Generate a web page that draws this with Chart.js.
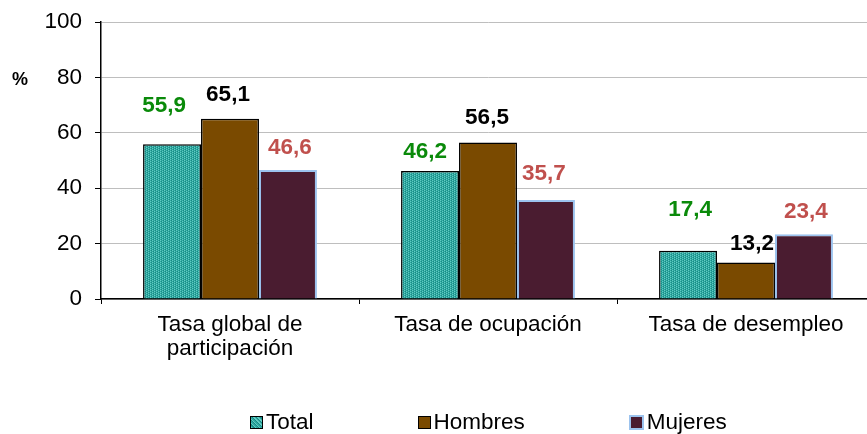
<!DOCTYPE html>
<html>
<head>
<meta charset="utf-8">
<script src="https://cdn.jsdelivr.net/npm/chart.js@4"></script>
<style>
  html, body { margin:0; padding:0; background:#fff; overflow:hidden }
  #wrap { position:relative; width:880px; height:434px }
  #legend { position:absolute; top:409px; left:250px; display:flex; gap:104px; font:22.5px 'Liberation Sans', Arial, sans-serif; color:#000 }
  #legend .item { display:flex; align-items:center }
  #legend .box { width:11px; height:11px; margin-right:3px; box-sizing:content-box }
</style>
</head>
<body>
<div id="wrap">
  <canvas id="chart" width="880" height="434"></canvas>
  <div id="legend"></div>
</div>
<script>
// Data
const categories = [['Tasa global de', 'participación'], 'Tasa de ocupación', 'Tasa de desempleo']
const seriesNames = ['Total', 'Hombres', 'Mujeres']
const total = [55.9, 46.2, 17.4]
const hombres = [65.1, 56.5, 13.2]
const mujeres = [46.6, 35.7, 23.4]

const FONT = "'Liberation Sans', Arial, sans-serif"

// teal dotted fill like the excel pattern
function tealPattern(){
  const c = document.createElement('canvas'); c.width = 4; c.height = 4
  const x = c.getContext('2d')
  x.fillStyle = '#2fa8a1'; x.fillRect(0,0,4,4)
  x.fillStyle = '#63cbc3'
  ;[[0,0],[2,1],[0,2],[2,3]].forEach(p => x.fillRect(p[0],p[1],1,1))
  x.fillStyle = '#178a84'
  ;[[1,1],[3,0],[1,3],[3,2]].forEach(p => x.fillRect(p[0],p[1],1,1))
  return x.createPattern(c, 'repeat')
}

const fills = [tealPattern(), '#7a4a00', '#4a1c30']
const borders = ['#000000', '#000000', '#9cc3ee']
const labelColors = ['#0a8a0a', '#000000', '#c0504d']
// label nudges [dx, gap above bar top] per series, per category
const labelShift = [
  [[-8,38],[-5,19],[2,41]],
  [[-2,24],[-1,25],[6,19]],
  [[2,22],[-2,26],[2,22]]
]

const valueLabels = {
  id: 'valueLabels',
  afterDatasetsDraw(chart){
    const ctx = chart.ctx
    ctx.save()
    ctx.font = 'bold 22.5px ' + FONT
    ctx.textAlign = 'center'; ctx.textBaseline = 'middle'
    chart.data.datasets.forEach((ds, di) => {
      chart.getDatasetMeta(di).data.forEach((bar, i) => {
        const s = labelShift[di][i]
        ctx.fillStyle = labelColors[di]
        ctx.fillText(ds.data[i].toFixed(1).replace('.', ','), bar.x + s[0], bar.y - s[1])
      })
    })
    // unit label
    ctx.font = 'bold 18px ' + FONT
    ctx.fillStyle = '#000'
    ctx.fillText('%', 20, 80)
    ctx.restore()
  }
}

const ctx = document.getElementById('chart').getContext('2d')
new Chart(ctx, {
  type: 'bar',
  data: {
    labels: categories,
    datasets: [total, hombres, mujeres].map((d, i) => ({
      label: seriesNames[i], data: d,
      backgroundColor: fills[i], borderColor: borders[i],
      borderWidth: i === 2 ? 2 : 1.5,
      categoryPercentage: 0.674, barPercentage: 1
    }))
  },
  options: {
    responsive: false, animation: false, devicePixelRatio: 1,
    layout: { padding: { top: 22, right: 5, left: 0, bottom: 0 } },
    plugins: { legend: { display: false }, tooltip: { enabled: false } },
    scales: {
      y: {
        min: 0, max: 100,
        ticks: { stepSize: 20, color: '#000', padding: 13, font: { family: FONT, size: 22.5 } },
        grid: { color: '#bebebe', lineWidth: 1, tickColor: '#000', tickLength: 6 },
        border: { color: '#000', width: 1.5 },
        afterFit: s => { s.width = 101; s.paddingTop = 0; s.paddingBottom = 0 }
      },
      x: {
        ticks: { color: '#000', padding: 9, maxRotation: 0, autoSkip: false, font: { family: FONT, size: 22.5, lineHeight: 1.07 } },
        grid: { drawOnChartArea: false, tickColor: '#000', tickLength: 5, offset: true },
        border: { color: '#000', width: 1.5 },
        afterFit: s => { s.height = 135 }
      }
    }
  },
  plugins: [valueLabels]
})

// legend
const lg = document.getElementById('legend')
seriesNames.forEach((name, i) => {
  const it = document.createElement('div'); it.className = 'item'
  const b = document.createElement('span'); b.className = 'box'
  b.style.border = (i === 2 ? '2px solid ' : '1.5px solid ') + borders[i]
  b.style.background = i === 0 ? 'repeating-linear-gradient(45deg,#63cbc3 0 1px,#2fa8a1 1px 2px,#178a84 2px 3px)' : fills[i]
  const t = document.createElement('span'); t.textContent = name
  it.appendChild(b); it.appendChild(t); lg.appendChild(it)
})
</script>
</body>
</html>
